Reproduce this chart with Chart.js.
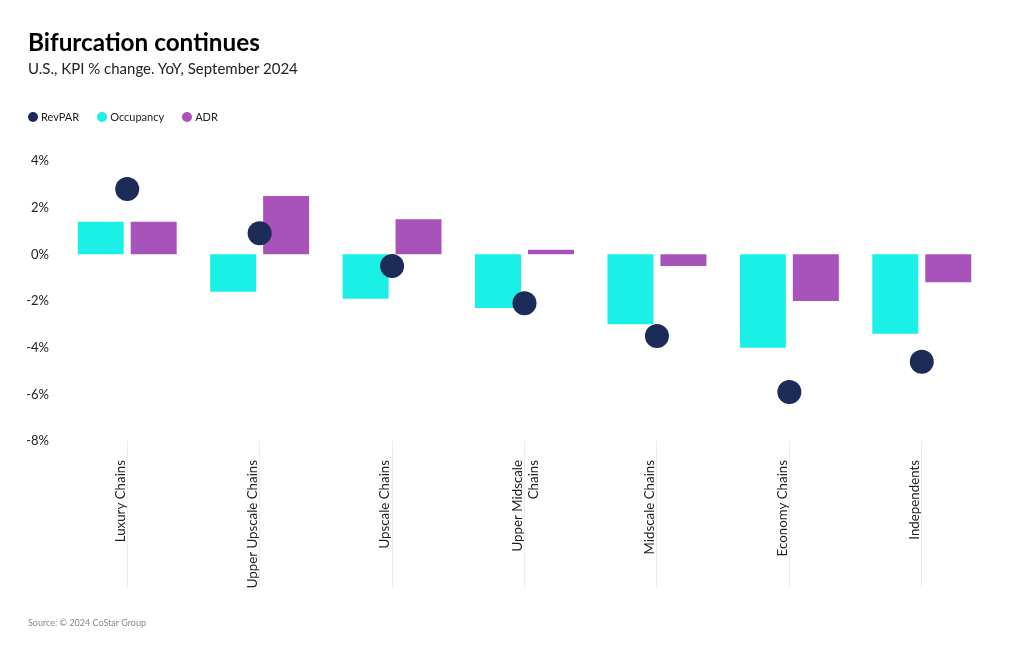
<!DOCTYPE html>
<html>
<head>
<meta charset="utf-8">
<script src="https://cdn.jsdelivr.net/npm/chart.js@4/dist/chart.umd.min.js"></script>
<style>
  html, body { margin: 0; padding: 0; background: #fff; }
  body { width: 1020px; height: 650px; position: relative; overflow: hidden; font-family: Lato, "Noto Sans", sans-serif; }
  #title { position: absolute; left: 28px; top: 27px; font-size: 24.3px; font-weight: 700; color: #000; }
  #subtitle { position: absolute; left: 28px; top: 59px; font-size: 15px; color: #222; }
  #legend { position: absolute; left: 28px; top: 110px; font-size: 11px; color: #222; display: flex; }
  #legend .item { display: flex; align-items: center; margin-right: 18px; }
  #legend .dot { width: 10px; height: 10px; border-radius: 50%; margin-right: 3px; }
  #source { position: absolute; left: 28px; top: 617px; font-size: 9px; color: #888; }
  #wrap { position: absolute; left: 0; top: 0; width: 1020px; height: 650px; }
</style>
</head>
<body>
<div id="wrap"><canvas id="c" width="1020" height="650"></canvas></div>
<div id="title">Bifurcation continues</div>
<div id="subtitle">U.S., KPI % change. YoY, September 2024</div>
<div id="legend"></div>
<div id="source">Source: © 2024 CoStar Group</div>
<script>
const categories = [
  "Luxury Chains",
  "Upper Upscale Chains",
  "Upscale Chains",
  ["Upper Midscale", "Chains"],
  "Midscale Chains",
  "Economy Chains",
  "Independents"
];
const revpar    = [2.8, 0.9, -0.5, -2.1, -3.5, -5.9, -4.6];
const occupancy = [1.4, -1.6, -1.9, -2.3, -3.0, -4.0, -3.4];
const adr       = [1.4, 2.5, 1.5, 0.2, -0.5, -2.0, -1.2];
const yTicks    = [4, 2, 0, -2, -4, -6, -8];
const seriesNames  = ["RevPAR", "Occupancy", "ADR"];
const seriesColors = ["#1c2b58", "#1af0e6", "#a853b9"];

const legend = document.getElementById('legend');
seriesNames.forEach((n, i) => {
  const it = document.createElement('div'); it.className = 'item';
  const d = document.createElement('div'); d.className = 'dot'; d.style.background = seriesColors[i];
  const t = document.createElement('span'); t.textContent = n;
  it.appendChild(d); it.appendChild(t); legend.appendChild(it);
});

new Chart(document.getElementById('c'), {
  data: {
    labels: categories,
    datasets: [
      { type: 'line', label: seriesNames[0], data: revpar, showLine: false,
        pointRadius: 12, pointHoverRadius: 12, pointBackgroundColor: seriesColors[0],
        pointBorderWidth: 0, borderColor: seriesColors[0], backgroundColor: seriesColors[0] },
      { type: 'bar', label: seriesNames[1], data: occupancy, backgroundColor: seriesColors[1],
        barPercentage: 0.868, categoryPercentage: 0.8 },
      { type: 'bar', label: seriesNames[2], data: adr, backgroundColor: seriesColors[2],
        barPercentage: 0.868, categoryPercentage: 0.8 }
    ]
  },
  options: {
    responsive: false,
    animation: false,
    layout: { padding: { top: 161, right: 32, bottom: 62, left: 0 } },
    plugins: { legend: { display: false }, tooltip: { enabled: false }, title: { display: false } },
    scales: {
      x: {
        offset: true,
        grid: { offset: false, drawOnChartArea: false, drawTicks: true, tickLength: 147, color: '#ececec', lineWidth: 1 },
        border: { display: false },
        ticks: { autoSkip: false, minRotation: 90, maxRotation: 90, padding: -128, labelOffset: -7,
                 color: '#222', font: { family: 'Lato', size: 13.3 } },
        afterFit: (s) => { s.height = 147; }
      },
      y: {
        min: -8, max: 4,
        afterBuildTicks: (s) => { s.ticks = yTicks.map(v => ({ value: v })); },
        grid: { display: false },
        border: { display: false },
        ticks: { padding: 4, color: '#222', font: { family: 'Lato', size: 13 },
                 callback: (v) => v + '%' },
        afterFit: (s) => { s.width = 61; }
      }
    }
  }
});
</script>
</body>
</html>
